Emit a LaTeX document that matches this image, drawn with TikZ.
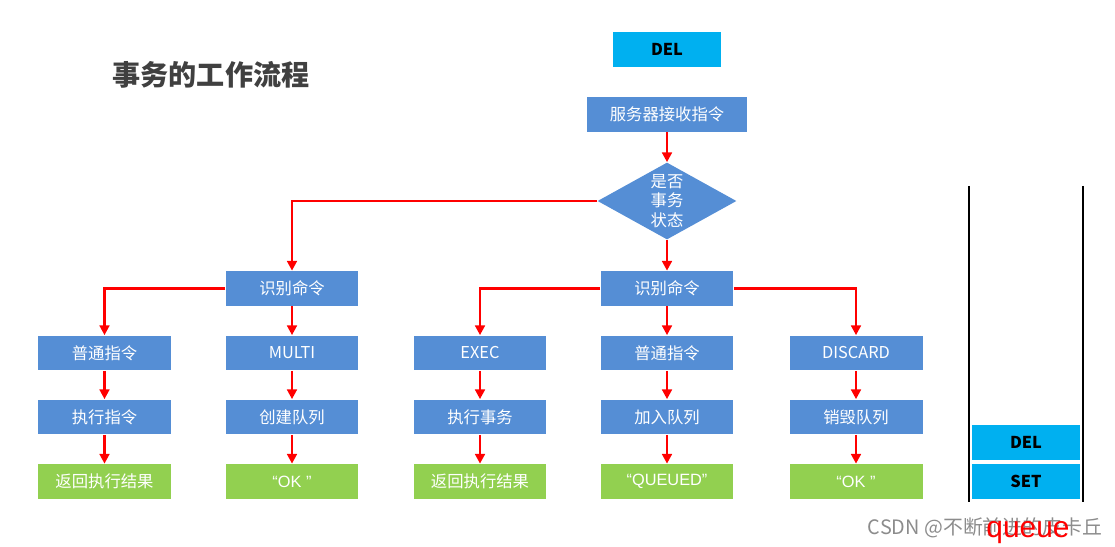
\documentclass[tikz,border=0pt]{standalone}
\usepackage{fontspec}
\setmainfont{Noto Sans CJK SC}
\newfontfamily\latin{Liberation Sans}
\usepackage {tikz}
\usetikzlibrary {positioning}
\usetikzlibrary{shapes.geometric}
\usetikzlibrary{arrows.meta}
\definecolor{opblue}{RGB}{85,142,213}
\definecolor{resgreen}{RGB}{146,208,80}
\definecolor{cmdcyan}{RGB}{0,176,240}
\definecolor{titlegray}{RGB}{64,64,64}
\newcommand\quoted[1]{{\latin “#1”}}

\begin{document}
\begin{tikzpicture}[x=0.02cm,y=-0.02cm,
  opbox/.style={fill=opblue,text=white,minimum width=2.66cm,minimum height=0.7cm,
    inner sep=0pt,font=\fontsize{9.3}{11}\selectfont},
  resbox/.style={opbox,fill=resgreen},
  cmdbox/.style={fill=cmdcyan,text=black,minimum width=2.16cm,minimum height=0.7cm,
    inner sep=0pt,font=\fontsize{9.3}{11}\selectfont\bfseries},
  decide/.style={diamond,fill=opblue,text=white,aspect=1.8,inner sep=0pt,
    minimum width=2.78cm,minimum height=1.54cm,align=center,
    font=\fontsize{9.3}{11.3}\selectfont},
  flow/.style={draw=red,line width=1.4pt,-{Triangle[width=5.5pt,length=5.5pt]}}]
\useasboundingbox (0,0) rectangle (1115,547);
\node[font=\fontsize{16}{18}\selectfont\bfseries,text=titlegray] (title) at (211,75) {事务的工作流程};
% top of the flow
\path (667,49.5) node[cmdbox] (del) {DEL}
++(0,65) node[opbox,minimum width=3.2cm] (recv) {服务器接收指令}
++(0,86.5) node[decide] (state) {是否\\事务\\状态};
\path (292,288.5) node[opbox] (idL) {识别命令}
(667,288.5) node[opbox] (idR) {识别命令};
\draw[flow] (recv) -- (state);
\draw[flow] (state.west) -| (idL);
\draw[flow] (state.south) -- (idR);
% five columns
\foreach \n/\x/\a/\b/\c in {c1/104.5/普通指令/执行指令/返回执行结果,
  c2/292/MULTI/创建队列/\quoted{OK },
  c3/480/EXEC/执行事务/返回执行结果,
  c4/667/普通指令/加入队列/\quoted{QUEUED},
  c5/856/DISCARD/销毁队列/\quoted{OK }} {
\path (\x,353) node[opbox] (\n a) {\a}
++(0,64) node[opbox] (\n b) {\b}
++(0,64.5) node[resbox] (\n c) {\c};
\draw[flow] (\n a) -- (\n b);
\draw[flow] (\n b) -- (\n c);
}
\draw[flow] (idL.west) -| (c1a);
\draw[flow] (idL) -- (c2a);
\draw[flow] (idR.west) -| (c3a);
\draw[flow] (idR) -- (c4a);
\draw[flow] (idR.east) -| (c5a);
% queue
\draw[line width=1.3pt] (969,186) -- (969,502) (1083,186) -- (1083,502);
\path (1026,442.5) node[cmdbox] (qdel) {DEL}
++(0,39) node[cmdbox] (qset) {SET};
\node[anchor=base,text=black!45,font=\fontsize{11.3}{13}\selectfont] (mark) at (985,534) {CSDN @不断前进的皮卡丘};
\node[anchor=base,text=red,font=\latin\fontsize{17}{19}\selectfont] (qname) at (1028,537) {queue};
\end{tikzpicture}
\end{document}
